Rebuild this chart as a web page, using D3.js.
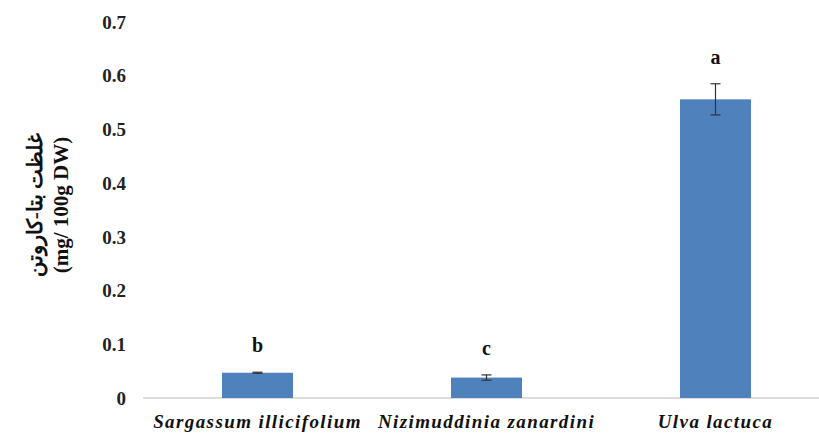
<!DOCTYPE html>
<html>
<head>
<meta charset="utf-8">
<script src="https://cdn.jsdelivr.net/npm/d3@7"></script>
<style>
  body { margin: 0; background: #fff; }
  text { font-family: "Liberation Serif", "Times New Roman", serif; font-weight: bold; }
</style>
</head>
<body>
<svg id="chart"></svg>
<script>
// data
var species = ["Sargassum illicifolium", "Nizimuddinia zanardini", "Ulva lactuca"];
var betaCarotene = [0.047, 0.038, 0.556];
var errors = [0.001, 0.005, 0.029];
var letters = ["b", "c", "a"];
var yTicks = [0, 0.1, 0.2, 0.3, 0.4, 0.5, 0.6, 0.7];

var WIDTH = 819, HEIGHT = 434;
var plotLeft = 143, plotRight = 830, plotTop = 22, plotBottom = 398;

var svg = d3.select("#chart")
    .attr("width", WIDTH)
    .attr("height", HEIGHT);

var x = d3.scaleBand()
    .domain(species)
    .range([plotLeft, plotRight])
    .paddingInner(0.69)
    .paddingOuter(0.345);

var y = d3.scaleLinear()
    .domain([0, 0.7])
    .range([plotBottom, plotTop]);

// y tick labels (no axis line)
svg.append("g")
  .selectAll("text")
    .data(yTicks)
  .enter().append("text")
    .attr("x", 126)
    .attr("y", function(d) { return y(d); })
    .attr("dy", "0.35em")
    .attr("text-anchor", "end")
    .style("font-size", "19px")
    .style("fill", "#222")
    .text(function(d) { return d === 0 ? "0" : d.toFixed(1); });

// baseline
svg.append("line")
    .attr("x1", plotLeft)
    .attr("x2", WIDTH)
    .attr("y1", y(0))
    .attr("y2", y(0))
    .style("stroke", "#d0d0d0")
    .style("stroke-width", 1.5);

var data = species.map(function(s, i) {
  return { name: s, value: betaCarotene[i], err: errors[i], letter: letters[i] };
});

// bars
svg.append("g")
  .selectAll("rect")
    .data(data)
  .enter().append("rect")
    .attr("x", function(d) { return x(d.name); })
    .attr("y", function(d) { return y(d.value); })
    .attr("width", x.bandwidth())
    .attr("height", function(d) { return y(0) - y(d.value); })
    .style("fill", "#4f81bd");

// error bars
var eg = svg.append("g")
  .selectAll("g")
    .data(data)
  .enter().append("g")
    .style("stroke", "#333")
    .style("stroke-width", 1.2);

eg.append("line")
    .attr("x1", function(d) { return x(d.name) + x.bandwidth() / 2; })
    .attr("x2", function(d) { return x(d.name) + x.bandwidth() / 2; })
    .attr("y1", function(d) { return y(d.value + d.err); })
    .attr("y2", function(d) { return y(d.value - d.err); });

[1, -1].forEach(function(sign) {
  eg.append("line")
      .attr("x1", function(d) { return x(d.name) + x.bandwidth() / 2 - 5; })
      .attr("x2", function(d) { return x(d.name) + x.bandwidth() / 2 + 5; })
      .attr("y1", function(d) { return y(d.value + sign * d.err); })
      .attr("y2", function(d) { return y(d.value + sign * d.err); });
});

// significance letters
svg.append("g")
  .selectAll("text")
    .data(data)
  .enter().append("text")
    .attr("x", function(d) { return x(d.name) + x.bandwidth() / 2; })
    .attr("y", function(d) { return y(d.value + d.err) - 20; })
    .attr("text-anchor", "middle")
    .style("font-size", "20px")
    .style("fill", "#111")
    .text(function(d) { return d.letter; });

// category labels
svg.append("g")
  .selectAll("text")
    .data(species)
  .enter().append("text")
    .attr("x", function(d) { return x(d) + x.bandwidth() / 2; })
    .attr("y", 421)
    .attr("dy", "0.35em")
    .attr("text-anchor", "middle")
    .style("font-size", "19px")
    .style("letter-spacing", "1.4px")
    .style("font-style", "italic")
    .style("fill", "#111")
    .text(function(d) { return d; });

// y axis title, two rotated lines
var title = svg.append("g")
    .attr("transform", "translate(0,205) rotate(-90)");

title.append("text")
    .attr("x", 0)
    .attr("y", 42)
    .attr("text-anchor", "middle")
    .style("font-size", "21px")
    .style("fill", "#111")
    .text("غلظت بتا-کاروتن");

title.append("text")
    .attr("x", 0)
    .attr("y", 68)
    .attr("text-anchor", "middle")
    .style("font-size", "21px")
    .style("fill", "#111")
    .text("(mg/ 100g DW)");
</script>
</body>
</html>
